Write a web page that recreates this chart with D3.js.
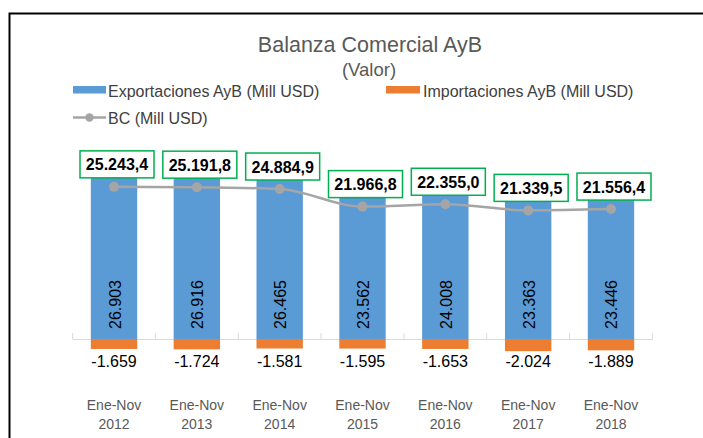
<!DOCTYPE html>
<html>
<head>
<meta charset="utf-8">
<script src="https://cdn.jsdelivr.net/npm/d3@7"></script>
<style>
  body { margin: 0; background: #fff; }
  svg { display: block; font-family: "Liberation Sans", Arial, sans-serif; }
</style>
</head>
<body>
<script>
const years = ["2012", "2013", "2014", "2015", "2016", "2017", "2018"]
const periodLabel = "Ene-Nov"
const exportaciones = [26903, 26916, 26465, 23562, 24008, 23363, 23446]
const importaciones = [-1659, -1724, -1581, -1595, -1653, -2024, -1889]
const balanza = [25243.4, 25191.8, 24884.9, 21966.8, 22355.0, 21339.5, 21556.4]

const width = 703
const height = 438
const blue = "#5b9bd5"
const orange = "#ed7d31"
const gray = "#a5a5a5"

const fmtInt = v => d3.format(",")(v).replace(/,/g, ".").replace("\u2212", "-")
const fmtDec = v => {
    let s = d3.format(",.1f")(v)
    return s.replace(/,/g, "#").replace(".", ",").replace(/#/g, ".")
}

function drawVis(){
    const svg = d3.select("body").append("svg")
        .attr("width", width)
        .attr("height", height)

    // chart frame
    svg.append("path")
        .attr("d", "M9.5," + height + " V13.5 H" + width)
        .attr("fill", "none")
        .attr("stroke", "#000")
        .attr("stroke-width", 2)

    const x = d3.scaleBand()
        .domain(years)
        .range([72.6, 652.4])
        .paddingInner(0.44)
        .paddingOuter(0.22)

    const y = d3.scaleLinear()
        .domain([-5000, 30000])
        .range([369.1, 158.2])

    // title
    svg.append("text")
        .attr("x", 370).attr("y", 52)
        .attr("text-anchor", "middle")
        .attr("font-size", 21.5)
        .attr("fill", "#595959")
        .text("Balanza Comercial AyB")
    svg.append("text")
        .attr("x", 369).attr("y", 76)
        .attr("text-anchor", "middle")
        .attr("font-size", 18.5)
        .attr("fill", "#595959")
        .text("(Valor)")

    // legend
    const legend = svg.append("g").attr("font-size", 16).attr("fill", "#404040")
    legend.append("rect").attr("x", 73).attr("y", 86).attr("width", 33).attr("height", 7.5).attr("fill", blue)
    legend.append("text").attr("x", 108).attr("y", 96.5).text("Exportaciones AyB (Mill USD)")
    legend.append("rect").attr("x", 386).attr("y", 86).attr("width", 34).attr("height", 7.5).attr("fill", orange)
    legend.append("text").attr("x", 423).attr("y", 96.5).text("Importaciones AyB (Mill USD)")
    legend.append("line").attr("x1", 73).attr("x2", 106).attr("y1", 117.5).attr("y2", 117.5)
        .attr("stroke", gray).attr("stroke-width", 2.5)
    legend.append("circle").attr("cx", 89.5).attr("cy", 117.5).attr("r", 4.2).attr("fill", gray)
    legend.append("text").attr("x", 108).attr("y", 123.5).text("BC (Mill USD)")

    // axis
    const axis = svg.append("g")
        .attr("transform", "translate(0," + y(0) + ")")
        .call(d3.axisBottom(x).tickSize(0).tickFormat(""))
    axis.select(".domain").attr("stroke", "#d9d9d9").attr("stroke-width", 1)
    const bounds = years.map(d => x(d) - x.step() * x.paddingInner() / 2).concat([x.range()[1]])
    axis.selectAll(".sep")
        .data(bounds)
        .join("line")
        .attr("class", "sep")
        .attr("x1", d => d).attr("x2", d => d)
        .attr("y1", -6).attr("y2", 0)
        .attr("stroke", "#d9d9d9")

    // bars
    svg.append("g").selectAll("rect")
        .data(exportaciones)
        .join("rect")
        .attr("x", (d, i) => x(years[i]))
        .attr("y", d => y(d))
        .attr("width", x.bandwidth())
        .attr("height", d => y(0) - y(d))
        .attr("fill", blue)

    svg.append("g").selectAll("rect")
        .data(importaciones)
        .join("rect")
        .attr("x", (d, i) => x(years[i]))
        .attr("y", y(0))
        .attr("width", x.bandwidth())
        .attr("height", d => y(d) - y(0))
        .attr("fill", orange)

    // export labels (rotated, inside base)
    svg.append("g").selectAll("text")
        .data(exportaciones)
        .join("text")
        .attr("transform", (d, i) => "translate(" + (x(years[i]) + x.bandwidth() / 2 + 6.5) + "," + (y(0) - 10) + ") rotate(-90)")
        .attr("font-size", 16)
        .attr("fill", "#000")
        .text(d => fmtInt(d))

    // import labels
    svg.append("g").selectAll("text")
        .data(importaciones)
        .join("text")
        .attr("x", (d, i) => x(years[i]) + x.bandwidth() / 2)
        .attr("y", 367)
        .attr("text-anchor", "middle")
        .attr("font-size", 16)
        .attr("fill", "#000")
        .text(d => fmtInt(d))

    // category labels
    const cat = svg.append("g").attr("font-size", 14).attr("fill", "#595959").attr("text-anchor", "middle")
    cat.selectAll(".p")
        .data(years)
        .join("text")
        .attr("class", "p")
        .attr("x", d => x(d) + x.bandwidth() / 2)
        .attr("y", 410)
        .text(periodLabel)
    cat.selectAll(".yr")
        .data(years)
        .join("text")
        .attr("class", "yr")
        .attr("x", d => x(d) + x.bandwidth() / 2)
        .attr("y", 429)
        .text(d => d)

    // BC line
    const cx = i => x(years[i]) + x.bandwidth() / 2
    const line = d3.line()
        .x((d, i) => cx(i))
        .y(d => y(d))
        .curve(d3.curveMonotoneX)
    svg.append("path")
        .datum(balanza)
        .attr("d", line)
        .attr("fill", "none")
        .attr("stroke", gray)
        .attr("stroke-width", 2.5)
    svg.append("g").selectAll("circle")
        .data(balanza)
        .join("circle")
        .attr("cx", (d, i) => cx(i))
        .attr("cy", d => y(d))
        .attr("r", 5)
        .attr("fill", gray)

    // BC labels in green boxes
    const lab = svg.append("g").selectAll("g")
        .data(balanza)
        .join("g")
        .attr("transform", (d, i) => "translate(" + (cx(i) + 3) + "," + (y(d) - 9) + ")")
    lab.append("rect")
        .attr("x", -37).attr("y", -27)
        .attr("width", 74).attr("height", 27)
        .attr("fill", "#fff")
        .attr("stroke", "#00b050")
        .attr("stroke-width", 1.5)
    lab.append("text")
        .attr("y", -7.5)
        .attr("text-anchor", "middle")
        .attr("font-size", 16)
        .attr("font-weight", "bold")
        .attr("fill", "#000")
        .text(d => fmtDec(d))
}

drawVis()
</script>
</body>
</html>
